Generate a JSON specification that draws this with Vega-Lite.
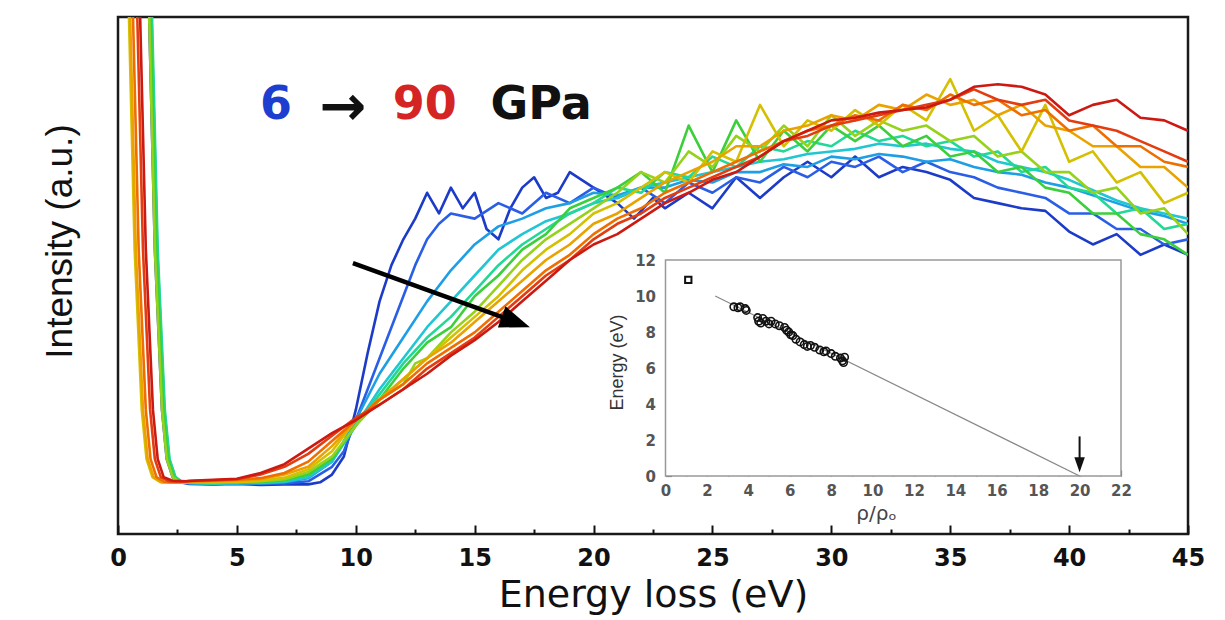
{
  "$schema": "https://vega.github.io/schema/vega-lite/v6.json",
  "width": 1070,
  "height": 517,
  "autosize": "none",
  "padding": {"left": 118, "top": 17, "right": 37, "bottom": 86},
  "background": "white",
  "config": {"view": {"stroke": "#1a1a1a", "strokeWidth": 2.5}, "font": "DejaVu Sans"},
  "datasets": {
    "curves": [
      {"p":6,"e":1.1,"i":140},{"p":6,"e":1.55,"i":55},{"p":6,"e":1.85,"i":24},{"p":6,"e":2.05,"i":14.5},{"p":6,"e":2.3,"i":11},{"p":6,"e":2.6,"i":10},{"p":6,"e":3,"i":9.7},{"p":6,"e":4,"i":9.6},{"p":6,"e":5,"i":9.7},{"p":6,"e":6,"i":9.5},{"p":6,"e":7,"i":9.6},{"p":6,"e":8,"i":9.6},{"p":6,"e":8.5,"i":10},{"p":6,"e":9,"i":11.5},{"p":6,"e":9.5,"i":15},{"p":6,"e":10,"i":24},{"p":6,"e":10.5,"i":35},{"p":6,"e":11,"i":45},{"p":6,"e":11.5,"i":52},{"p":6,"e":12,"i":57},{"p":6,"e":12.5,"i":61},{"p":6,"e":13,"i":66},{"p":6,"e":13.5,"i":62},{"p":6,"e":14,"i":67},{"p":6,"e":14.5,"i":63},{"p":6,"e":15,"i":66},{"p":6,"e":15.5,"i":59},{"p":6,"e":16,"i":57},{"p":6,"e":16.5,"i":63},{"p":6,"e":17,"i":67},{"p":6,"e":17.5,"i":69},{"p":6,"e":18,"i":65},{"p":6,"e":18.5,"i":66},{"p":6,"e":19,"i":70},{"p":6,"e":20,"i":67},{"p":6,"e":21,"i":64},{"p":6,"e":21.7,"i":61},{"p":6,"e":22.5,"i":65},{"p":6,"e":23,"i":63},{"p":6,"e":24,"i":66},{"p":6,"e":25,"i":63},{"p":6,"e":26,"i":69},{"p":6,"e":27,"i":65},{"p":6,"e":28,"i":69},{"p":6,"e":29,"i":72},{"p":6,"e":30,"i":69},{"p":6,"e":31,"i":73},{"p":6,"e":32,"i":69},{"p":6,"e":33,"i":71},{"p":6,"e":34,"i":70},{"p":6,"e":35,"i":68.5},{"p":6,"e":36,"i":65},{"p":6,"e":37,"i":64},{"p":6,"e":38,"i":63},{"p":6,"e":39,"i":62.5},{"p":6,"e":40,"i":58.5},{"p":6,"e":41,"i":56},{"p":6,"e":42,"i":58},{"p":6,"e":43,"i":54},{"p":6,"e":44,"i":56},{"p":6,"e":45,"i":54},
      {"p":12,"e":1.15,"i":140},{"p":12,"e":1.6,"i":55},{"p":12,"e":1.9,"i":24},{"p":12,"e":2.1,"i":14.5},{"p":12,"e":2.35,"i":11},{"p":12,"e":2.65,"i":10},{"p":12,"e":3,"i":9.8},{"p":12,"e":4,"i":9.7},{"p":12,"e":5,"i":9.8},{"p":12,"e":6,"i":9.7},{"p":12,"e":7,"i":9.8},{"p":12,"e":8,"i":10.2},{"p":12,"e":9,"i":13},{"p":12,"e":9.5,"i":16},{"p":12,"e":10,"i":22},{"p":12,"e":10.5,"i":28},{"p":12,"e":11,"i":34},{"p":12,"e":11.5,"i":40},{"p":12,"e":12,"i":46},{"p":12,"e":12.5,"i":52},{"p":12,"e":13,"i":57},{"p":12,"e":13.5,"i":60},{"p":12,"e":14,"i":62},{"p":12,"e":15,"i":61},{"p":12,"e":16,"i":64},{"p":12,"e":17,"i":62},{"p":12,"e":18,"i":66},{"p":12,"e":19,"i":64},{"p":12,"e":20,"i":67},{"p":12,"e":21,"i":65},{"p":12,"e":22,"i":67},{"p":12,"e":23,"i":64},{"p":12,"e":24,"i":68},{"p":12,"e":25,"i":66},{"p":12,"e":26,"i":69},{"p":12,"e":27,"i":68},{"p":12,"e":28,"i":71},{"p":12,"e":29,"i":69},{"p":12,"e":30,"i":72},{"p":12,"e":31,"i":71},{"p":12,"e":32,"i":73},{"p":12,"e":33,"i":70},{"p":12,"e":34,"i":72},{"p":12,"e":35,"i":70},{"p":12,"e":36,"i":69},{"p":12,"e":37,"i":67},{"p":12,"e":38,"i":66},{"p":12,"e":39,"i":65},{"p":12,"e":40,"i":62},{"p":12,"e":41,"i":62},{"p":12,"e":42,"i":59},{"p":12,"e":43,"i":59},{"p":12,"e":44,"i":56},{"p":12,"e":45,"i":57},
      {"p":18,"e":1.2,"i":140},{"p":18,"e":1.65,"i":55},{"p":18,"e":1.95,"i":24},{"p":18,"e":2.15,"i":14.5},{"p":18,"e":2.4,"i":11},{"p":18,"e":2.7,"i":10},{"p":18,"e":3,"i":9.8},{"p":18,"e":4,"i":9.7},{"p":18,"e":5,"i":9.9},{"p":18,"e":6,"i":9.8},{"p":18,"e":7,"i":10},{"p":18,"e":8,"i":10.8},{"p":18,"e":9,"i":14},{"p":18,"e":10,"i":22},{"p":18,"e":11,"i":31},{"p":18,"e":12,"i":38},{"p":18,"e":13,"i":45},{"p":18,"e":14,"i":51},{"p":18,"e":15,"i":56},{"p":18,"e":16,"i":59.5},{"p":18,"e":17,"i":61},{"p":18,"e":18,"i":63},{"p":18,"e":19,"i":64},{"p":18,"e":20,"i":66},{"p":18,"e":21,"i":65.5},{"p":18,"e":22,"i":67},{"p":18,"e":23,"i":67},{"p":18,"e":24,"i":68.5},{"p":18,"e":25,"i":68},{"p":18,"e":26,"i":70},{"p":18,"e":27,"i":70},{"p":18,"e":28,"i":71.5},{"p":18,"e":29,"i":71},{"p":18,"e":30,"i":73},{"p":18,"e":31,"i":72.5},{"p":18,"e":32,"i":73.5},{"p":18,"e":33,"i":73},{"p":18,"e":34,"i":72},{"p":18,"e":35,"i":72.5},{"p":18,"e":36,"i":71},{"p":18,"e":37,"i":70},{"p":18,"e":38,"i":69.5},{"p":18,"e":39,"i":68},{"p":18,"e":40,"i":67},{"p":18,"e":41,"i":65.5},{"p":18,"e":42,"i":64},{"p":18,"e":43,"i":62.5},{"p":18,"e":44,"i":61.5},{"p":18,"e":45,"i":60},
      {"p":25,"e":1.18,"i":140},{"p":25,"e":1.63,"i":55},{"p":25,"e":1.93,"i":24},{"p":25,"e":2.13,"i":14.5},{"p":25,"e":2.38,"i":11},{"p":25,"e":2.68,"i":10},{"p":25,"e":3,"i":9.9},{"p":25,"e":4,"i":9.8},{"p":25,"e":5,"i":9.8},{"p":25,"e":6,"i":9.9},{"p":25,"e":7,"i":10.1},{"p":25,"e":8,"i":11},{"p":25,"e":9,"i":14},{"p":25,"e":10,"i":21},{"p":25,"e":11,"i":28},{"p":25,"e":12,"i":34},{"p":25,"e":13,"i":40},{"p":25,"e":14,"i":45},{"p":25,"e":15,"i":50},{"p":25,"e":16,"i":55},{"p":25,"e":17,"i":58},{"p":25,"e":18,"i":60.5},{"p":25,"e":19,"i":62},{"p":25,"e":20,"i":64},{"p":25,"e":21,"i":65},{"p":25,"e":22,"i":67},{"p":25,"e":23,"i":68},{"p":25,"e":24,"i":69},{"p":25,"e":25,"i":70},{"p":25,"e":26,"i":71},{"p":25,"e":27,"i":72},{"p":25,"e":28,"i":72.5},{"p":25,"e":29,"i":73.5},{"p":25,"e":30,"i":74},{"p":25,"e":31,"i":74.5},{"p":25,"e":32,"i":75.5},{"p":25,"e":33,"i":75},{"p":25,"e":34,"i":75.5},{"p":25,"e":35,"i":74.5},{"p":25,"e":36,"i":74},{"p":25,"e":37,"i":72},{"p":25,"e":38,"i":71},{"p":25,"e":39,"i":70},{"p":25,"e":40,"i":68.5},{"p":25,"e":41,"i":66.5},{"p":25,"e":42,"i":64.5},{"p":25,"e":43,"i":63},{"p":25,"e":44,"i":62},{"p":25,"e":45,"i":61},
      {"p":32,"e":1.22,"i":140},{"p":32,"e":1.67,"i":55},{"p":32,"e":1.97,"i":24},{"p":32,"e":2.17,"i":14.5},{"p":32,"e":2.42,"i":11},{"p":32,"e":2.72,"i":10},{"p":32,"e":3,"i":9.9},{"p":32,"e":4,"i":9.8},{"p":32,"e":5,"i":10},{"p":32,"e":6,"i":9.9},{"p":32,"e":7,"i":10.3},{"p":32,"e":8,"i":11.5},{"p":32,"e":9,"i":14.5},{"p":32,"e":10,"i":21},{"p":32,"e":11,"i":27},{"p":32,"e":12,"i":33},{"p":32,"e":13,"i":38},{"p":32,"e":14,"i":42},{"p":32,"e":15,"i":47},{"p":32,"e":16,"i":52},{"p":32,"e":17,"i":56},{"p":32,"e":18,"i":59},{"p":32,"e":19,"i":62},{"p":32,"e":20,"i":64},{"p":32,"e":21,"i":67},{"p":32,"e":22,"i":66},{"p":32,"e":23,"i":70},{"p":32,"e":24,"i":69},{"p":32,"e":25,"i":73},{"p":32,"e":26,"i":71},{"p":32,"e":27,"i":75},{"p":32,"e":28,"i":74},{"p":32,"e":29,"i":76},{"p":32,"e":30,"i":75},{"p":32,"e":31,"i":78},{"p":32,"e":32,"i":76},{"p":32,"e":33,"i":77},{"p":32,"e":34,"i":75},{"p":32,"e":35,"i":76},{"p":32,"e":36,"i":73},{"p":32,"e":37,"i":74},{"p":32,"e":38,"i":70},{"p":32,"e":39,"i":71},{"p":32,"e":40,"i":67},{"p":32,"e":41,"i":66},{"p":32,"e":42,"i":62},{"p":32,"e":43,"i":63},{"p":32,"e":44,"i":59},{"p":32,"e":45,"i":60},
      {"p":40,"e":1.16,"i":140},{"p":40,"e":1.61,"i":55},{"p":40,"e":1.91,"i":24},{"p":40,"e":2.11,"i":14.5},{"p":40,"e":2.36,"i":11},{"p":40,"e":2.66,"i":10},{"p":40,"e":3,"i":9.9},{"p":40,"e":4,"i":10},{"p":40,"e":5,"i":9.9},{"p":40,"e":6,"i":10.1},{"p":40,"e":7,"i":10.4},{"p":40,"e":8,"i":11.5},{"p":40,"e":9,"i":14.5},{"p":40,"e":10,"i":21},{"p":40,"e":11,"i":26},{"p":40,"e":12,"i":32},{"p":40,"e":13,"i":37},{"p":40,"e":14,"i":40},{"p":40,"e":15,"i":46},{"p":40,"e":16,"i":50},{"p":40,"e":17,"i":55},{"p":40,"e":18,"i":58},{"p":40,"e":19,"i":63},{"p":40,"e":20,"i":65},{"p":40,"e":21,"i":67},{"p":40,"e":22,"i":70},{"p":40,"e":23,"i":66},{"p":40,"e":24,"i":79},{"p":40,"e":25,"i":70},{"p":40,"e":26,"i":80},{"p":40,"e":27,"i":72},{"p":40,"e":28,"i":78},{"p":40,"e":29,"i":74},{"p":40,"e":30,"i":79},{"p":40,"e":31,"i":76},{"p":40,"e":32,"i":79},{"p":40,"e":33,"i":75},{"p":40,"e":34,"i":77},{"p":40,"e":35,"i":73},{"p":40,"e":36,"i":74},{"p":40,"e":37,"i":70},{"p":40,"e":38,"i":71},{"p":40,"e":39,"i":67},{"p":40,"e":40,"i":66},{"p":40,"e":41,"i":62},{"p":40,"e":42,"i":62},{"p":40,"e":43,"i":58},{"p":40,"e":44,"i":57},{"p":40,"e":45,"i":54},
      {"p":47,"e":1.1,"i":140},{"p":47,"e":1.55,"i":55},{"p":47,"e":1.85,"i":24},{"p":47,"e":2.05,"i":14.5},{"p":47,"e":2.3,"i":11},{"p":47,"e":2.6,"i":10},{"p":47,"e":3,"i":10},{"p":47,"e":4,"i":9.9},{"p":47,"e":5,"i":10.1},{"p":47,"e":6,"i":10.2},{"p":47,"e":7,"i":10.6},{"p":47,"e":8,"i":12},{"p":47,"e":9,"i":15},{"p":47,"e":10,"i":21},{"p":47,"e":11,"i":26},{"p":47,"e":12,"i":29},{"p":47,"e":12.5,"i":33},{"p":47,"e":13,"i":34},{"p":47,"e":14,"i":39},{"p":47,"e":15,"i":43},{"p":47,"e":16,"i":48},{"p":47,"e":17,"i":53},{"p":47,"e":18,"i":57},{"p":47,"e":19,"i":60},{"p":47,"e":20,"i":63},{"p":47,"e":21,"i":66},{"p":47,"e":22,"i":70},{"p":47,"e":23,"i":68},{"p":47,"e":24,"i":74},{"p":47,"e":25,"i":71},{"p":47,"e":26,"i":77},{"p":47,"e":27,"i":74},{"p":47,"e":28,"i":79},{"p":47,"e":29,"i":75},{"p":47,"e":30,"i":81},{"p":47,"e":31,"i":77},{"p":47,"e":32,"i":80},{"p":47,"e":33,"i":78},{"p":47,"e":34,"i":79},{"p":47,"e":35,"i":76},{"p":47,"e":36,"i":77},{"p":47,"e":37,"i":73},{"p":47,"e":38,"i":74},{"p":47,"e":39,"i":70},{"p":47,"e":40,"i":70},{"p":47,"e":41,"i":66},{"p":47,"e":42,"i":67},{"p":47,"e":43,"i":62},{"p":47,"e":44,"i":63},{"p":47,"e":45,"i":58},
      {"p":55,"e":0.25,"i":140},{"p":55,"e":0.7,"i":55},{"p":55,"e":1.0,"i":24},{"p":55,"e":1.2,"i":14.5},{"p":55,"e":1.45,"i":11},{"p":55,"e":1.8,"i":10},{"p":55,"e":2.3,"i":9.9},{"p":55,"e":3,"i":10},{"p":55,"e":4,"i":10.1},{"p":55,"e":5,"i":10},{"p":55,"e":6,"i":10.3},{"p":55,"e":7,"i":10.9},{"p":55,"e":8,"i":12.5},{"p":55,"e":9,"i":16},{"p":55,"e":10,"i":22},{"p":55,"e":11,"i":26},{"p":55,"e":12,"i":30},{"p":55,"e":13,"i":34},{"p":55,"e":14,"i":38},{"p":55,"e":15,"i":42},{"p":55,"e":16,"i":46},{"p":55,"e":17,"i":51},{"p":55,"e":18,"i":55},{"p":55,"e":19,"i":58},{"p":55,"e":20,"i":62},{"p":55,"e":21,"i":64},{"p":55,"e":22,"i":67},{"p":55,"e":23,"i":70},{"p":55,"e":24,"i":68},{"p":55,"e":25,"i":74},{"p":55,"e":26,"i":72},{"p":55,"e":27,"i":83},{"p":55,"e":28,"i":75},{"p":55,"e":29,"i":80},{"p":55,"e":30,"i":78},{"p":55,"e":31,"i":82},{"p":55,"e":32,"i":79},{"p":55,"e":33,"i":83},{"p":55,"e":34,"i":80},{"p":55,"e":35,"i":88},{"p":55,"e":36,"i":78},{"p":55,"e":37,"i":81},{"p":55,"e":38,"i":74},{"p":55,"e":39,"i":83},{"p":55,"e":40,"i":72},{"p":55,"e":41,"i":74},{"p":55,"e":42,"i":68},{"p":55,"e":43,"i":70},{"p":55,"e":44,"i":64},{"p":55,"e":45,"i":66},
      {"p":62,"e":0.3,"i":140},{"p":62,"e":0.75,"i":55},{"p":62,"e":1.05,"i":24},{"p":62,"e":1.25,"i":14.5},{"p":62,"e":1.5,"i":11},{"p":62,"e":1.85,"i":10},{"p":62,"e":2.4,"i":9.9},{"p":62,"e":3,"i":10.1},{"p":62,"e":4,"i":10.2},{"p":62,"e":5,"i":10.3},{"p":62,"e":6,"i":10.6},{"p":62,"e":7,"i":11.5},{"p":62,"e":8,"i":13},{"p":62,"e":9,"i":17},{"p":62,"e":10,"i":22},{"p":62,"e":11,"i":26},{"p":62,"e":12,"i":30},{"p":62,"e":13,"i":34},{"p":62,"e":14,"i":37},{"p":62,"e":15,"i":41},{"p":62,"e":16,"i":45},{"p":62,"e":17,"i":49},{"p":62,"e":18,"i":53},{"p":62,"e":19,"i":56},{"p":62,"e":20,"i":60},{"p":62,"e":21,"i":62},{"p":62,"e":22,"i":65},{"p":62,"e":23,"i":68},{"p":62,"e":24,"i":70},{"p":62,"e":25,"i":72},{"p":62,"e":26,"i":75},{"p":62,"e":27,"i":75},{"p":62,"e":28,"i":78},{"p":62,"e":29,"i":79},{"p":62,"e":30,"i":81},{"p":62,"e":31,"i":80},{"p":62,"e":32,"i":83},{"p":62,"e":33,"i":82},{"p":62,"e":34,"i":85},{"p":62,"e":35,"i":83},{"p":62,"e":36,"i":84},{"p":62,"e":37,"i":81},{"p":62,"e":38,"i":83},{"p":62,"e":39,"i":79},{"p":62,"e":40,"i":78},{"p":62,"e":41,"i":75},{"p":62,"e":42,"i":75},{"p":62,"e":43,"i":71},{"p":62,"e":44,"i":71},{"p":62,"e":45,"i":67},
      {"p":70,"e":0.42,"i":140},{"p":70,"e":0.87,"i":55},{"p":70,"e":1.17,"i":24},{"p":70,"e":1.37,"i":14.5},{"p":70,"e":1.62,"i":11},{"p":70,"e":1.95,"i":10.1},{"p":70,"e":2.5,"i":10},{"p":70,"e":3,"i":10.2},{"p":70,"e":4,"i":10.3},{"p":70,"e":5,"i":10.5},{"p":70,"e":6,"i":10.8},{"p":70,"e":7,"i":11.8},{"p":70,"e":8,"i":14},{"p":70,"e":9,"i":18},{"p":70,"e":10,"i":22},{"p":70,"e":11,"i":26},{"p":70,"e":12,"i":29},{"p":70,"e":13,"i":33},{"p":70,"e":14,"i":36},{"p":70,"e":15,"i":39},{"p":70,"e":16,"i":43},{"p":70,"e":17,"i":47},{"p":70,"e":18,"i":51},{"p":70,"e":19,"i":54},{"p":70,"e":20,"i":58},{"p":70,"e":21,"i":61},{"p":70,"e":22,"i":63},{"p":70,"e":23,"i":66},{"p":70,"e":24,"i":68},{"p":70,"e":25,"i":70},{"p":70,"e":26,"i":72},{"p":70,"e":27,"i":74},{"p":70,"e":28,"i":76},{"p":70,"e":29,"i":78},{"p":70,"e":30,"i":79},{"p":70,"e":31,"i":81},{"p":70,"e":32,"i":80},{"p":70,"e":33,"i":83},{"p":70,"e":34,"i":82},{"p":70,"e":35,"i":85},{"p":70,"e":36,"i":83},{"p":70,"e":37,"i":84},{"p":70,"e":38,"i":81},{"p":70,"e":39,"i":82},{"p":70,"e":40,"i":78},{"p":70,"e":41,"i":79},{"p":70,"e":42,"i":75},{"p":70,"e":43,"i":75},{"p":70,"e":44,"i":72},{"p":70,"e":45,"i":71},
      {"p":80,"e":0.6,"i":140},{"p":80,"e":1.05,"i":55},{"p":80,"e":1.35,"i":24},{"p":80,"e":1.55,"i":14.5},{"p":80,"e":1.8,"i":11},{"p":80,"e":2.15,"i":10.2},{"p":80,"e":2.7,"i":10.1},{"p":80,"e":3,"i":10.3},{"p":80,"e":4,"i":10.4},{"p":80,"e":5,"i":10.6},{"p":80,"e":6,"i":11.5},{"p":80,"e":7,"i":13},{"p":80,"e":8,"i":15.5},{"p":80,"e":9,"i":19},{"p":80,"e":10,"i":22.5},{"p":80,"e":11,"i":25},{"p":80,"e":12,"i":28},{"p":80,"e":13,"i":32},{"p":80,"e":14,"i":35},{"p":80,"e":15,"i":38},{"p":80,"e":16,"i":42},{"p":80,"e":17,"i":46},{"p":80,"e":18,"i":50},{"p":80,"e":19,"i":53},{"p":80,"e":20,"i":57},{"p":80,"e":21,"i":60},{"p":80,"e":22,"i":62},{"p":80,"e":23,"i":65},{"p":80,"e":24,"i":67},{"p":80,"e":25,"i":69},{"p":80,"e":26,"i":71},{"p":80,"e":27,"i":73},{"p":80,"e":28,"i":76},{"p":80,"e":29,"i":77},{"p":80,"e":30,"i":79},{"p":80,"e":31,"i":80},{"p":80,"e":32,"i":81},{"p":80,"e":33,"i":82},{"p":80,"e":34,"i":83},{"p":80,"e":35,"i":84},{"p":80,"e":36,"i":86},{"p":80,"e":37,"i":84},{"p":80,"e":38,"i":83},{"p":80,"e":39,"i":84},{"p":80,"e":40,"i":80},{"p":80,"e":41,"i":79},{"p":80,"e":42,"i":78},{"p":80,"e":43,"i":76},{"p":80,"e":44,"i":74},{"p":80,"e":45,"i":72},
      {"p":90,"e":0.72,"i":140},{"p":90,"e":1.17,"i":55},{"p":90,"e":1.47,"i":24},{"p":90,"e":1.67,"i":14.5},{"p":90,"e":1.92,"i":11},{"p":90,"e":2.3,"i":10.3},{"p":90,"e":2.9,"i":10.2},{"p":90,"e":3.5,"i":10.4},{"p":90,"e":4,"i":10.5},{"p":90,"e":5,"i":10.7},{"p":90,"e":6,"i":11.8},{"p":90,"e":7,"i":13.5},{"p":90,"e":8,"i":16.5},{"p":90,"e":9,"i":19.5},{"p":90,"e":10,"i":22},{"p":90,"e":11,"i":25},{"p":90,"e":12,"i":28},{"p":90,"e":13,"i":31},{"p":90,"e":14,"i":34.5},{"p":90,"e":15,"i":37.5},{"p":90,"e":16,"i":41},{"p":90,"e":17,"i":45},{"p":90,"e":18,"i":49},{"p":90,"e":19,"i":53},{"p":90,"e":20,"i":56},{"p":90,"e":21,"i":58},{"p":90,"e":22,"i":61},{"p":90,"e":23,"i":64},{"p":90,"e":24,"i":66},{"p":90,"e":25,"i":68.5},{"p":90,"e":26,"i":70},{"p":90,"e":27,"i":73},{"p":90,"e":28,"i":76},{"p":90,"e":29,"i":78},{"p":90,"e":30,"i":80},{"p":90,"e":31,"i":80.5},{"p":90,"e":32,"i":81.5},{"p":90,"e":33,"i":82},{"p":90,"e":34,"i":82.5},{"p":90,"e":35,"i":84},{"p":90,"e":36,"i":86.5},{"p":90,"e":37,"i":87},{"p":90,"e":38,"i":86.5},{"p":90,"e":39,"i":85},{"p":90,"e":40,"i":81},{"p":90,"e":41,"i":83},{"p":90,"e":42,"i":84},{"p":90,"e":43,"i":80.5},{"p":90,"e":44,"i":80},{"p":90,"e":45,"i":78}
    ],
    "inset": [
      {"r":3.3,"E":9.4},{"r":3.5,"E":9.35},{"r":3.6,"E":9.4},{"r":3.85,"E":9.3},{"r":3.9,"E":9.2},{"r":4.45,"E":8.8},{"r":4.5,"E":8.6},{"r":4.6,"E":8.5},{"r":4.7,"E":8.75},{"r":4.85,"E":8.6},{"r":5.0,"E":8.45},{"r":5.1,"E":8.6},{"r":5.3,"E":8.45},{"r":5.5,"E":8.35},{"r":5.75,"E":8.25},{"r":5.85,"E":8.1},{"r":5.95,"E":8.0},{"r":6.05,"E":7.85},{"r":6.15,"E":7.8},{"r":6.3,"E":7.6},{"r":6.5,"E":7.45},{"r":6.7,"E":7.3},{"r":6.85,"E":7.2},{"r":7.0,"E":7.25},{"r":7.2,"E":7.15},{"r":7.45,"E":7.0},{"r":7.65,"E":6.9},{"r":7.75,"E":6.95},{"r":8.0,"E":6.8},{"r":8.2,"E":6.65},{"r":8.45,"E":6.55},{"r":8.55,"E":6.4},{"r":8.65,"E":6.6},{"r":8.6,"E":6.3}
    ]
  },
  "layer": [
    {
      "data": {"name": "curves"},
      "mark": {"type": "line", "clip": true, "strokeWidth": 2.6, "strokeJoin": "round"},
      "encoding": {
        "x": {"field": "e", "type": "quantitative", "scale": {"domain": [0, 45], "nice": false},
          "axis": {"orient": "bottom", "values": [0,2.5,5,7.5,10,12.5,15,17.5,20,22.5,25,27.5,30,32.5,35,37.5,40,42.5,45],
            "labelExpr": "datum.value % 5 === 0 ? datum.label : ''",
            "tickSize": -9, "tickWidth": 2, "tickColor": "#111",
            "tickDash": {"condition": {"test": "datum.value % 5 !== 0", "value": [5, 100]}, "value": [100, 0]},
            "domain": false, "grid": false,
            "labelFont": "DejaVu Sans", "labelFontWeight": "bold", "labelFontSize": 24, "labelColor": "#111",
            "labelBaseline": "alphabetic", "labelPadding": 40, "labelFlush": false,
            "title": "Energy loss (eV)", "titleFont": "DejaVu Sans", "titleFontSize": 38, "titleFontWeight": "normal",
            "titleColor": "#111", "titleBaseline": "alphabetic", "titleY": 72}},
        "y": {"field": "i", "type": "quantitative", "scale": {"domain": [0, 100], "nice": false},
          "axis": {"orient": "left", "title": "Intensity (a.u.)", "ticks": false, "labels": false, "domain": false, "grid": false,
            "titleFont": "Liberation Sans", "titleFontSize": 37, "titleFontWeight": "normal", "titleColor": "#111",
            "titleAngle": -90, "titleX": -47, "titleY": 224, "titleBaseline": "alphabetic"}},
        "color": {"field": "p", "type": "ordinal",
          "scale": {"domain": [6,12,18,25,32,40,47,55,62,70,80,90],
            "range": ["#1c3bc8","#2a5ee6","#1e9ee4","#21c6d2","#22d896","#3ccf3c","#96d21c","#d4c000","#eaa200","#ee6e00","#e23c10","#cc1a12"]},
          "legend": null}
      }
    },
    {
      "data": {"values": [{"e": 9.88, "i": 52.4, "e2": 16.73, "i2": 41.0}]},
      "mark": {"type": "rule", "color": "black", "strokeWidth": 4.5},
      "encoding": {
        "x": {"field": "e", "type": "quantitative", "scale": {"domain": [0, 45], "nice": false}, "axis": null},
        "y": {"field": "i", "type": "quantitative", "scale": {"domain": [0, 100], "nice": false}, "axis": null},
        "x2": {"field": "e2"}, "y2": {"field": "i2"}
      }
    },
    {
      "data": {"values": [{"e": 16.73, "i": 41.0}]},
      "mark": {"type": "point", "shape": "M 1 0 L -1 -0.75 L -1 0.75 Z", "filled": true, "color": "black", "opacity": 1, "size": 900, "angle": 19.9},
      "encoding": {
        "x": {"field": "e", "type": "quantitative", "scale": {"domain": [0, 45], "nice": false}, "axis": null},
        "y": {"field": "i", "type": "quantitative", "scale": {"domain": [0, 100], "nice": false}, "axis": null}
      }
    },
    {
      "data": {"values": [{"e": 6.64, "i": 80.2, "t": "6"}]},
      "mark": {"type": "text", "font": "DejaVu Sans", "fontWeight": "bold", "fontSize": 46, "color": "#1c3fcf", "baseline": "alphabetic", "align": "center"},
      "encoding": {
        "x": {"field": "e", "type": "quantitative", "scale": {"domain": [0, 45], "nice": false}, "axis": null},
        "y": {"field": "i", "type": "quantitative", "scale": {"domain": [0, 100], "nice": false}, "axis": null},
        "text": {"field": "t"}
      }
    },
    {
      "data": {"values": [{"e": 9.46, "i": 79.1, "t": "→"}]},
      "mark": {"type": "text", "font": "DejaVu Sans", "fontWeight": "bold", "fontSize": 56, "color": "#111", "baseline": "alphabetic", "align": "center"},
      "encoding": {
        "x": {"field": "e", "type": "quantitative", "scale": {"domain": [0, 45], "nice": false}, "axis": null},
        "y": {"field": "i", "type": "quantitative", "scale": {"domain": [0, 100], "nice": false}, "axis": null},
        "text": {"field": "t"}
      }
    },
    {
      "data": {"values": [{"e": 12.9, "i": 80.2, "t": "90"}]},
      "mark": {"type": "text", "font": "DejaVu Sans", "fontWeight": "bold", "fontSize": 46, "color": "#d42424", "baseline": "alphabetic", "align": "center"},
      "encoding": {
        "x": {"field": "e", "type": "quantitative", "scale": {"domain": [0, 45], "nice": false}, "axis": null},
        "y": {"field": "i", "type": "quantitative", "scale": {"domain": [0, 100], "nice": false}, "axis": null},
        "text": {"field": "t"}
      }
    },
    {
      "data": {"values": [{"e": 17.8, "i": 80.2, "t": "GPa"}]},
      "mark": {"type": "text", "font": "DejaVu Sans", "fontWeight": "bold", "fontSize": 46, "color": "#111", "baseline": "alphabetic", "align": "center"},
      "encoding": {
        "x": {"field": "e", "type": "quantitative", "scale": {"domain": [0, 45], "nice": false}, "axis": null},
        "y": {"field": "i", "type": "quantitative", "scale": {"domain": [0, 100], "nice": false}, "axis": null},
        "text": {"field": "t"}
      }
    },
    {
      "data": {"values": [{}]},
      "mark": {"type": "rect", "fill": "white", "stroke": "#999", "strokeWidth": 1.5},
      "encoding": {
        "x": {"datum": 0, "type": "quantitative", "scale": {"domain": [0, 22], "range": [547.5, 1003], "nice": false},
          "axis": {"orient": "bottom", "offset": -58, "values": [0,1,2,3,4,5,6,7,8,9,10,11,12,13,14,15,16,17,18,19,20,21,22],
            "labelExpr": "datum.value % 2 === 0 ? datum.label : ''",
            "tickSize": -6, "tickWidth": 1.2, "tickColor": "#666",
            "tickDash": {"condition": {"test": "datum.value % 2 !== 0", "value": [3, 100]}, "value": [100, 0]},
            "domain": false, "grid": false,
            "labelFont": "DejaVu Sans", "labelFontWeight": "bold", "labelFontSize": 15, "labelColor": "#555",
            "labelBaseline": "alphabetic", "labelPadding": 25, "labelFlush": false,
            "title": "ρ/ρₒ", "titleFont": "DejaVu Sans", "titleFontSize": 20, "titleFontWeight": "normal", "titleColor": "#444",
            "titleBaseline": "alphabetic", "titleY": 43, "titleX": 758}},
        "x2": {"datum": 22},
        "y": {"datum": 0, "type": "quantitative", "scale": {"domain": [0, 12], "range": [459, 243], "nice": false},
          "axis": {"orient": "left", "offset": -547.5, "values": [0,1,2,3,4,5,6,7,8,9,10,11,12],
            "labelExpr": "datum.value % 2 === 0 ? datum.label : ''",
            "tickSize": -6, "tickWidth": 1.2, "tickColor": "#666",
            "tickDash": {"condition": {"test": "datum.value % 2 !== 0", "value": [3, 100]}, "value": [100, 0]},
            "domain": false, "grid": false,
            "labelFont": "DejaVu Sans", "labelFontWeight": "bold", "labelFontSize": 15, "labelColor": "#555",
            "labelPadding": 16, "labelFlush": false,
            "title": "Energy (eV)", "titleFont": "Liberation Sans", "titleFontSize": 18, "titleFontWeight": "normal", "titleColor": "#333",
            "titleAngle": -90, "titleX": -43.5, "titleY": 345, "titleBaseline": "alphabetic"}},
        "y2": {"datum": 12}
      }
    },
    {
      "data": {"values": [{"r": 2.4, "E": 10}, {"r": 20, "E": 0}]},
      "mark": {"type": "line", "color": "#888", "strokeWidth": 1.3},
      "encoding": {
        "x": {"field": "r", "type": "quantitative", "scale": {"domain": [0, 22], "range": [547.5, 1003], "nice": false}, "axis": null},
        "y": {"field": "E", "type": "quantitative", "scale": {"domain": [0, 12], "range": [459, 243], "nice": false}, "axis": null}
      }
    },
    {
      "data": {"name": "inset"},
      "mark": {"type": "point", "shape": "circle", "filled": false, "color": "#111", "strokeWidth": 1.6, "size": 55, "opacity": 1},
      "encoding": {
        "x": {"field": "r", "type": "quantitative", "scale": {"domain": [0, 22], "range": [547.5, 1003], "nice": false}, "axis": null},
        "y": {"field": "E", "type": "quantitative", "scale": {"domain": [0, 12], "range": [459, 243], "nice": false}, "axis": null}
      }
    },
    {
      "data": {"values": [{"r": 1.1, "E": 10.9}]},
      "mark": {"type": "point", "shape": "square", "filled": false, "color": "#111", "strokeWidth": 2, "size": 40, "opacity": 1},
      "encoding": {
        "x": {"field": "r", "type": "quantitative", "scale": {"domain": [0, 22], "range": [547.5, 1003], "nice": false}, "axis": null},
        "y": {"field": "E", "type": "quantitative", "scale": {"domain": [0, 12], "range": [459, 243], "nice": false}, "axis": null}
      }
    },
    {
      "data": {"values": [{"r": 20, "E": 2.2, "E2": 0.8}]},
      "mark": {"type": "rule", "color": "#111", "strokeWidth": 2},
      "encoding": {
        "x": {"field": "r", "type": "quantitative", "scale": {"domain": [0, 22], "range": [547.5, 1003], "nice": false}, "axis": null},
        "y": {"field": "E", "type": "quantitative", "scale": {"domain": [0, 12], "range": [459, 243], "nice": false}, "axis": null},
        "y2": {"field": "E2"}
      }
    },
    {
      "data": {"values": [{"r": 20, "E": 0.62}]},
      "mark": {"type": "point", "shape": "M 0 1 L -0.7 -1 L 0.7 -1 Z", "filled": true, "color": "#111", "size": 225, "opacity": 1},
      "encoding": {
        "x": {"field": "r", "type": "quantitative", "scale": {"domain": [0, 22], "range": [547.5, 1003], "nice": false}, "axis": null},
        "y": {"field": "E", "type": "quantitative", "scale": {"domain": [0, 12], "range": [459, 243], "nice": false}, "axis": null}
      }
    }
  ],
  "resolve": {"scale": {"x": "independent", "y": "independent", "color": "independent"}, "axis": {"x": "independent", "y": "independent"}}
}
